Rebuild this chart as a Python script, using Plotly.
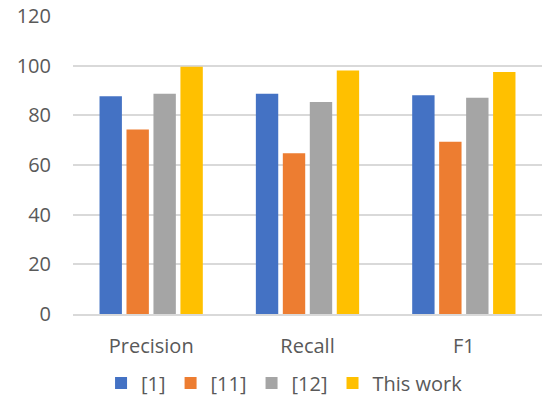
import plotly.graph_objects as go

# Metric categories and scores (%) for each method
categories = ["Precision", "Recall", "F1"]
series_names = ["[1]", "[11]", "[12]", "This work"]
scores_ref1 = [87.7, 88.7, 88.1]
scores_ref11 = [74.3, 64.7, 69.4]
scores_ref12 = [88.7, 85.4, 87.1]
scores_this_work = [99.6, 98.1, 97.5]
y_ticks = [0, 20, 40, 60, 80, 100, 120]

colors = ["#4472C4", "#ED7D31", "#A5A5A5", "#FFC000"]
all_scores = [scores_ref1, scores_ref11, scores_ref12, scores_this_work]

fig = go.Figure()
for name, vals, col in zip(series_names, all_scores, colors):
    fig.add_trace(go.Bar(
        x=categories, y=vals, name=name,
        marker=dict(color=col, line=dict(width=0)),
    ))

font_family = "Open Sans, Noto Sans, sans-serif"
text_color = "#595959"
fig.update_layout(
    width=542, height=397,
    margin=dict(l=73, r=0, t=16, b=83, autoexpand=False),
    paper_bgcolor="white", plot_bgcolor="white",
    barmode="group", bargap=0.31, bargroupgap=0.17,
    font=dict(family=font_family, size=20, color=text_color),
    showlegend=True,
    legend=dict(
        orientation="h", xref="container", yref="container",
        x=0.525, xanchor="center", y=0.035, yanchor="middle",
        font=dict(size=20, color=text_color),
        itemwidth=30, traceorder="normal",
        bgcolor="rgba(0,0,0,0)",
    ),
    xaxis=dict(
        showgrid=False, showline=True, linecolor="#d9d9d9", linewidth=2,
        ticks="", ticklabelstandoff=13,
        tickfont=dict(size=20, color=text_color),
    ),
    yaxis=dict(
        range=[0, 120], tickvals=y_ticks, showgrid=True,
        gridcolor="#d9d9d9", gridwidth=1.5, zeroline=False,
        showline=False, ticks="", ticklabelstandoff=21,
        tickfont=dict(size=20, color=text_color),
    ),
)

fig.write_html("out.html")
